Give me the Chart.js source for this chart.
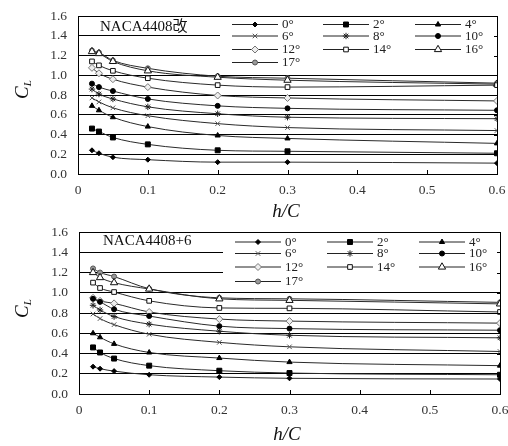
<!DOCTYPE html>
<html lang="ja">
<head>
  <meta charset="UTF-8">
  <title>NACA4408 揚力係数と h/C</title>
  <style>
    html, body { margin: 0; padding: 0; background: #fff; }
    .wrap { position: relative; width: 508px; height: 446px; }
    .chart-box { position: absolute; left: 0; width: 508px; }
    #box-kai { top: 0; height: 220px; }
    #box-plus6 { top: 220px; height: 226px; }
  </style>
</head>
<body>
  <div class="wrap">
    <div class="chart-box" id="box-kai"><canvas id="chart-kai" width="508" height="220"></canvas></div>
    <div class="chart-box" id="box-plus6"><canvas id="chart-plus6" width="508" height="226"></canvas></div>
  </div>

  <script src="https://cdn.jsdelivr.net/npm/chart.js@4.4.0/dist/chart.umd.min.js"></script>
  <script>
    // 地面からの高さ h/C
    const H_OVER_C = [0.02, 0.03, 0.05, 0.1, 0.2, 0.3, 0.6];
    // 迎角
    const ANGLES = ['0°', '2°', '4°', '6°', '8°', '10°', '12°', '14°', '16°', '17°'];

    // NACA4408改 の C_L（迎角ごと）
    const CL_KAI = [
      [0.24, 0.21, 0.17, 0.145, 0.12, 0.12, 0.11],
      [0.46, 0.43, 0.37, 0.30, 0.24, 0.23, 0.21],
      [0.69, 0.645, 0.575, 0.48, 0.39, 0.36, 0.31],
      [0.77, 0.73, 0.67, 0.59, 0.51, 0.47, 0.44],
      [0.86, 0.81, 0.76, 0.68, 0.61, 0.575, 0.56],
      [0.915, 0.88, 0.84, 0.76, 0.69, 0.665, 0.645],
      [1.075, 1.02, 0.96, 0.88, 0.795, 0.77, 0.74],
      [1.14, 1.10, 1.045, 0.97, 0.90, 0.88, 0.90],
      [1.24, 1.22, 1.14, 1.045, 0.98, 0.95, 0.91],
      [1.25, 1.23, 1.15, 1.07, 0.99, 0.97, 0.92]
    ];

    // NACA4408+6 の C_L（迎角ごと）
    const CL_PLUS6 = [
      [0.27, 0.25, 0.226, 0.19, 0.167, 0.155, 0.148],
      [0.46, 0.41, 0.35, 0.28, 0.23, 0.207, 0.19],
      [0.60, 0.56, 0.495, 0.41, 0.355, 0.315, 0.28],
      [0.79, 0.745, 0.685, 0.59, 0.51, 0.466, 0.42],
      [0.876, 0.83, 0.765, 0.69, 0.62, 0.58, 0.555],
      [0.94, 0.91, 0.837, 0.77, 0.67, 0.646, 0.63],
      [0.95, 0.92, 0.895, 0.81, 0.74, 0.72, 0.70],
      [1.10, 1.047, 1.007, 0.92, 0.85, 0.846, 0.81],
      [1.20, 1.15, 1.10, 1.037, 0.94, 0.925, 0.89],
      [1.24, 1.20, 1.16, 1.04, 0.95, 0.94, 0.905]
    ];

    const X_TICKS = [0, 0.1, 0.2, 0.3, 0.4, 0.5, 0.6];

    const SERIF = '"Liberation Serif", "Noto Sans CJK JP", serif';

    // 迎角ごとのマーカー
    const MARKERS = [
      { style: 'rectRot',  r: 2.5, fill: '#000', stroke: '#000' },
      { style: 'rect',     r: 3.5, fill: '#000', stroke: '#000' },
      { style: 'triangle', r: 3,   fill: '#000', stroke: '#000' },
      { style: 'crossRot', r: 3.2, fill: '#555', stroke: '#555' },
      { style: 'star',     r: 3.2, fill: '#222', stroke: '#222' },
      { style: 'circle',   r: 2.5, fill: '#000', stroke: '#000' },
      { style: 'rectRot',  r: 3.5, fill: '#eee', stroke: '#777' },
      { style: 'rect',     r: 3.3, fill: '#fff', stroke: '#111' },
      { style: 'triangle', r: 4.2, fill: '#fff', stroke: '#111' },
      { style: 'circle',   r: 2.5, fill: '#999', stroke: '#555' }
    ];

    function drawMarker(ctx, m, x, y) {
      ctx.save();
      ctx.fillStyle = m.fill;
      ctx.strokeStyle = m.stroke;
      ctx.lineWidth = 1;
      Chart.helpers.drawPoint(ctx, { pointStyle: m.style, radius: m.r, rotation: 0, borderWidth: 1 }, x, y);
      ctx.restore();
    }

    function decorations(title, geo) {
      return {
        id: 'decorations',
        beforeDatasetsDraw(chart) {
          const { ctx, chartArea: a, scales } = chart;
          const yb = scales.y.getPixelForValue(1.0);
          // 凡例の白地
          ctx.save();
          ctx.fillStyle = '#fff';
          ctx.fillRect(geo.legendLeft, a.top + 1, a.right - geo.legendLeft, yb - a.top - 2);
          ctx.restore();
        },
        afterDraw(chart) {
          const { ctx, chartArea: a, scales } = chart;
          ctx.save();
          ctx.strokeStyle = '#000';
          ctx.lineWidth = 1;
          ctx.strokeRect(Math.round(a.left) + 0.5, Math.round(a.top) + 0.5,
                         Math.round(a.right - a.left), Math.round(a.bottom - a.top));

          // x 軸の内向き目盛
          ctx.beginPath();
          X_TICKS.slice(1, -1).forEach(v => {
            const px = Math.round(scales.x.getPixelForValue(v)) + 0.5;
            ctx.moveTo(px, a.bottom);
            ctx.lineTo(px, a.bottom - 4);
          });
          // 右側の内向き目盛
          for (let v = 0.2; v < 1.6; v += 0.2) {
            const py = Math.round(scales.y.getPixelForValue(v)) + 0.5;
            ctx.moveTo(a.right, py);
            ctx.lineTo(a.right - 3, py);
          }
          ctx.stroke();

          // 凡例
          ctx.font = '13px ' + SERIF;
          ctx.textBaseline = 'middle';
          ctx.textAlign = 'left';
          ANGLES.forEach((label, i) => {
            const col = i % 3, row = Math.floor(i / 3);
            const x0 = geo.legendCols[col], y0 = geo.legendRows[row];
            ctx.strokeStyle = '#222';
            ctx.beginPath();
            ctx.moveTo(x0, y0 + 0.5);
            ctx.lineTo(x0 + 46, y0 + 0.5);
            ctx.stroke();
            drawMarker(ctx, MARKERS[i], x0 + 23, y0 + 0.5);
            ctx.fillStyle = '#222';
            ctx.fillText(label, x0 + 50, y0 + 1);
          });

          // 翼型名
          ctx.font = '15px ' + SERIF;
          ctx.fillStyle = '#111';
          ctx.fillText(title, geo.titleX, geo.titleY);

          // 縦軸名 C_L
          ctx.save();
          ctx.translate(geo.ylabX, geo.ylabY);
          ctx.rotate(-Math.PI / 2);
          ctx.textAlign = 'left';
          ctx.textBaseline = 'alphabetic';
          ctx.font = 'italic 19px ' + SERIF;
          const cw = ctx.measureText('C').width;
          ctx.fillText('C', -9, 6);
          ctx.font = 'italic 11px ' + SERIF;
          ctx.fillText('L', -9 + cw, 9);
          ctx.restore();

          // 横軸名 h/C
          ctx.font = 'italic 19px ' + SERIF;
          ctx.textAlign = 'center';
          ctx.textBaseline = 'middle';
          ctx.fillText('h/C', geo.xlabX, geo.xlabY);
          ctx.restore();
        }
      };
    }

    function buildChart(id, title, rows, geo) {
      const datasets = rows.map((r, i) => ({
        label: ANGLES[i],
        data: H_OVER_C.map((x, j) => ({ x, y: r[j] })),
        borderColor: '#2a2a2a',
        borderWidth: 1,
        cubicInterpolationMode: 'monotone',
        pointStyle: MARKERS[i].style,
        pointRadius: MARKERS[i].r,
        pointBackgroundColor: MARKERS[i].fill,
        pointBorderColor: MARKERS[i].stroke,
        pointBorderWidth: 1
      }));

      return new Chart(document.getElementById(id), {
        type: 'line',
        data: { datasets },
        options: {
          responsive: false,
          animation: false,
          layout: { autoPadding: false, padding: { top: geo.top, right: geo.right, left: 0, bottom: 0 } },
          plugins: { legend: { display: false }, tooltip: { enabled: false } },
          scales: {
            x: {
              type: 'linear',
              min: 0,
              max: 0.6,
              afterFit(s) {
                s.height = geo.xh;
                s.paddingLeft = 0;
                s.paddingRight = 0;
              },
              afterBuildTicks(s) { s.ticks = X_TICKS.map(v => ({ value: v })); },
              ticks: {
                callback: v => (v === 0 ? '0' : v.toFixed(1)),
                color: '#333',
                font: { family: SERIF, size: 13.5 },
                padding: 8,
                maxRotation: 0
              },
              grid: { display: false, drawTicks: false },
              border: { color: '#000' }
            },
            y: {
              min: 0,
              max: 1.6,
              afterFit(s) {
                s.width = geo.yw;
                s.paddingTop = 0;
                s.paddingBottom = 0;
              },
              ticks: {
                stepSize: 0.2,
                callback: v => v.toFixed(1),
                color: '#333',
                font: { family: SERIF, size: 13.5 },
                padding: 11
              },
              grid: { color: '#000', lineWidth: 1, drawTicks: false },
              border: { color: '#000' }
            }
          }
        },
        plugins: [decorations(title, geo)]
      });
    }

    buildChart('chart-kai', 'NACA4408改', CL_KAI, {
      top: 16, right: 11, yw: 78, xh: 46,
      legendLeft: 220,
      legendCols: [232, 323, 415],
      legendRows: [24, 35.5, 49, 62],
      titleX: 100, titleY: 27,
      ylabX: 22, ylabY: 90,
      xlabX: 286, xlabY: 212
    });

    buildChart('chart-plus6', 'NACA4408+6', CL_PLUS6, {
      top: 12, right: 8, yw: 79, xh: 52,
      legendLeft: 223,
      legendCols: [235, 327, 419],
      legendRows: [21.5, 33, 46.5, 61],
      titleX: 103, titleY: 21,
      ylabX: 22, ylabY: 89,
      xlabX: 287, xlabY: 215
    });
  </script>
</body>
</html>
